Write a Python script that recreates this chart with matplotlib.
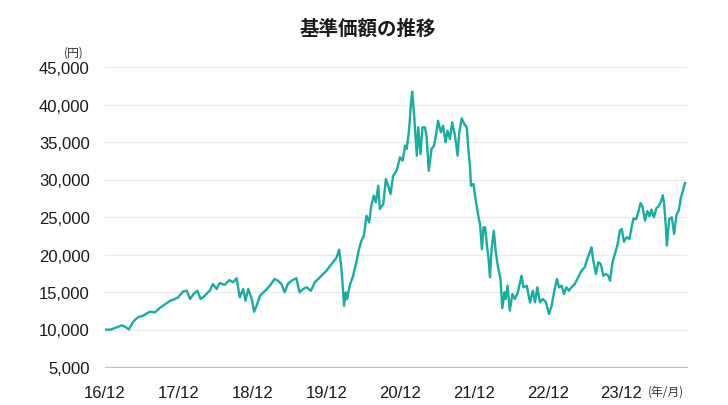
import matplotlib
matplotlib.use('Agg')
import matplotlib.pyplot as plt
import matplotlib.ticker as mticker
import pandas as pd

plt.rcParams['font.family'] = ['Liberation Sans', 'Noto Sans CJK JP']

# 基準価額（円）: values
dates = [
    '2016-12-01', '2016-12-25', '2017-01-20', '2017-02-22', '2017-03-13', '2017-03-29',
    '2017-04-19', '2017-05-13', '2017-06-08', '2017-07-10', '2017-08-05', '2017-08-29',
    '2017-09-24', '2017-10-18', '2017-11-12', '2017-11-28', '2017-12-23', '2018-01-10',
    '2018-01-26', '2018-02-12', '2018-03-03', '2018-03-19', '2018-04-09', '2018-05-03',
    '2018-05-19', '2018-06-06', '2018-06-22', '2018-07-16', '2018-08-08', '2018-08-27',
    '2018-09-13', '2018-09-29', '2018-10-16', '2018-10-27', '2018-11-10', '2018-11-27',
    '2018-12-09', '2018-12-21', '2019-01-07', '2019-02-01', '2019-02-25', '2019-03-20',
    '2019-04-06', '2019-04-23', '2019-05-09', '2019-05-25', '2019-06-12', '2019-07-06',
    '2019-07-22', '2019-08-08', '2019-08-25', '2019-09-16', '2019-10-05', '2019-10-30',
    '2019-11-16', '2019-12-02', '2019-12-23', '2020-01-09', '2020-01-21', '2020-02-03',
    '2020-02-15', '2020-02-27', '2020-03-07', '2020-03-13', '2020-03-26', '2020-04-12',
    '2020-04-29', '2020-05-11', '2020-05-23', '2020-06-04', '2020-06-17', '2020-06-30',
    '2020-07-11', '2020-07-23', '2020-08-02', '2020-08-14', '2020-08-22', '2020-09-08',
    '2020-09-21', '2020-10-02', '2020-10-14', '2020-10-27', '2020-11-13', '2020-11-30',
    '2020-12-13', '2020-12-25', '2021-01-02', '2021-01-14', '2021-01-23', '2021-01-29',
    '2021-02-08', '2021-02-13', '2021-02-21', '2021-02-28', '2021-03-11', '2021-03-21',
    '2021-04-02', '2021-04-10', '2021-04-21', '2021-05-05', '2021-05-17', '2021-05-29',
    '2021-06-06', '2021-06-20', '2021-07-01', '2021-07-13', '2021-07-23', '2021-08-04',
    '2021-08-15', '2021-08-29', '2021-09-11', '2021-09-19', '2021-10-01', '2021-10-14',
    '2021-10-26', '2021-11-03', '2021-11-11', '2021-11-16', '2021-11-28', '2021-12-06',
    '2021-12-14', '2021-12-22', '2021-12-31', '2022-01-09', '2022-01-17', '2022-01-25',
    '2022-02-03', '2022-02-11', '2022-02-18', '2022-02-26', '2022-03-09', '2022-03-19',
    '2022-03-30', '2022-04-11', '2022-04-20', '2022-05-01', '2022-05-07', '2022-05-16',
    '2022-05-27', '2022-06-09', '2022-06-21', '2022-07-06', '2022-07-24', '2022-08-02',
    '2022-08-19', '2022-09-04', '2022-09-18', '2022-09-29', '2022-10-10', '2022-10-23',
    '2022-11-06', '2022-11-22', '2022-12-07', '2022-12-20', '2023-01-01', '2023-01-15',
    '2023-01-26', '2023-02-08', '2023-02-19', '2023-03-03', '2023-03-16', '2023-03-28',
    '2023-04-14', '2023-04-30', '2023-05-17', '2023-06-02', '2023-06-14', '2023-06-27',
    '2023-07-05', '2023-07-13', '2023-07-27', '2023-08-08', '2023-08-20', '2023-09-02',
    '2023-09-15', '2023-09-26', '2023-10-05', '2023-10-17', '2023-10-29', '2023-11-11',
    '2023-11-23', '2023-12-02', '2023-12-13', '2023-12-26', '2024-01-09', '2024-01-21',
    '2024-01-29', '2024-02-11', '2024-02-22', '2024-03-04', '2024-03-14', '2024-03-26',
    '2024-04-07', '2024-04-17', '2024-04-27', '2024-05-09', '2024-05-22', '2024-06-01',
    '2024-06-12', '2024-06-22', '2024-06-28', '2024-07-07', '2024-07-12', '2024-07-24',
    '2024-08-06', '2024-08-17', '2024-08-29', '2024-09-10', '2024-09-20', '2024-09-29',
    '2024-10-10',
]
nav = [
    10000, 9960, 10200, 10560, 10330, 10000,
    11040, 11630, 11850, 12370, 12290, 12870,
    13360, 13800, 14070, 14290, 15090, 15170,
    14070, 14730, 15170, 14070, 14510, 15170,
    16060, 15400, 16200, 15950, 16580, 16290,
    16830, 14290, 15400, 13840, 15400, 14070,
    12370, 13170, 14510, 15170, 15840, 16730,
    16510, 16070, 14960, 16070, 16510, 16830,
    14960, 15400, 15630, 15170, 16290, 16960,
    17400, 17840, 18600, 19170, 19620, 20640,
    17840, 13170, 14960, 14070, 15840, 17170,
    19170, 20730, 21840, 22510, 25170, 24290,
    26510, 27840, 26960, 29170, 26070, 26730,
    30070, 29170, 28070, 30510, 31170, 32960,
    32510, 34510, 34070, 36730, 40070, 41710,
    38510, 36290, 33180, 36960, 33400, 36960,
    36960, 35840, 31170, 34070, 34510, 36290,
    37840, 36290, 37170, 34960, 36510, 35400,
    37620, 35840, 33180, 36290, 38160, 37400,
    36960, 34070, 31840, 29170, 29400, 27840,
    26510, 25170, 24000, 20730, 23620, 23620,
    21180, 19400, 16960, 20730, 23180, 20290,
    18300, 16730, 12850, 14960, 14070, 15840,
    12510, 14730, 14070, 14960, 17170, 15620,
    15840, 13620, 15170, 13620, 15620, 13620,
    14070, 13620, 12070, 13170, 14960, 16730,
    15620, 15840, 14730, 15620, 15170, 15620,
    16070, 16960, 17840, 18290, 19400, 20290,
    20960, 19400, 17400, 18960, 18730, 17170,
    17400, 17170, 16500, 18900, 20070, 21300,
    23180, 23400, 21700, 22290, 22070, 23800,
    24800, 24700, 25620, 26850, 26400, 24510,
    25800, 25100, 26000, 24960, 26200, 26400,
    26960, 27900, 26960, 23840, 21180, 24730,
    24960, 22730, 25300, 25900, 27620, 28400,
    29530,
]

tick_dates = ['2016-12-01', '2017-12-01', '2018-12-01', '2019-12-01',
              '2020-12-01', '2021-12-01', '2022-12-01', '2023-12-01']
tick_labels = ['16/12', '17/12', '18/12', '19/12', '20/12', '21/12', '22/12', '23/12']

fig = plt.figure(figsize=(7.28, 4.06), dpi=100)
ax = fig.add_axes([105 / 728, 38 / 406, 581.6 / 728, 300 / 406])

ax.plot(pd.to_datetime(dates), nav, color='#17ada0', lw=1.7, solid_joinstyle='round')

ax.set_ylim(5000, 45000)
ax.set_xlim(pd.Timestamp('2016-12-01'), pd.Timestamp('2024-10-18'))
ax.set_yticks(range(5000, 45001, 5000))
ax.yaxis.set_major_formatter(mticker.StrMethodFormatter('{x:,.0f}'))
ax.set_xticks(pd.to_datetime(tick_dates))
ax.set_xticklabels(tick_labels)

ax.grid(axis='y', color='#ebebeb', lw=1)
ax.set_axisbelow(True)
for s in ['top', 'right', 'left']:
    ax.spines[s].set_visible(False)
ax.spines['bottom'].set_color('#bfbfbf')
ax.tick_params(length=0, labelsize=12, colors='#1a1a1a')
ax.tick_params(axis='y', pad=11)
ax.tick_params(axis='x', pad=13)

fig.text(368 / 728, 1 - 29 / 406, '基準価額の推移', ha='center', va='center',
         fontsize=14, fontweight='bold', family='Noto Sans CJK JP', color='#1a1a1a')
fig.text(74 / 728, 1 - 53 / 406, '(円)', ha='center', va='center',
         fontsize=8.5, family='Noto Sans CJK JP', color='#333333')
fig.text(666 / 728, 1 - 392 / 406, '(年/月)', ha='center', va='center',
         fontsize=8.5, family='Noto Sans CJK JP', color='#333333')

fig.savefig('out.png', dpi=100)
